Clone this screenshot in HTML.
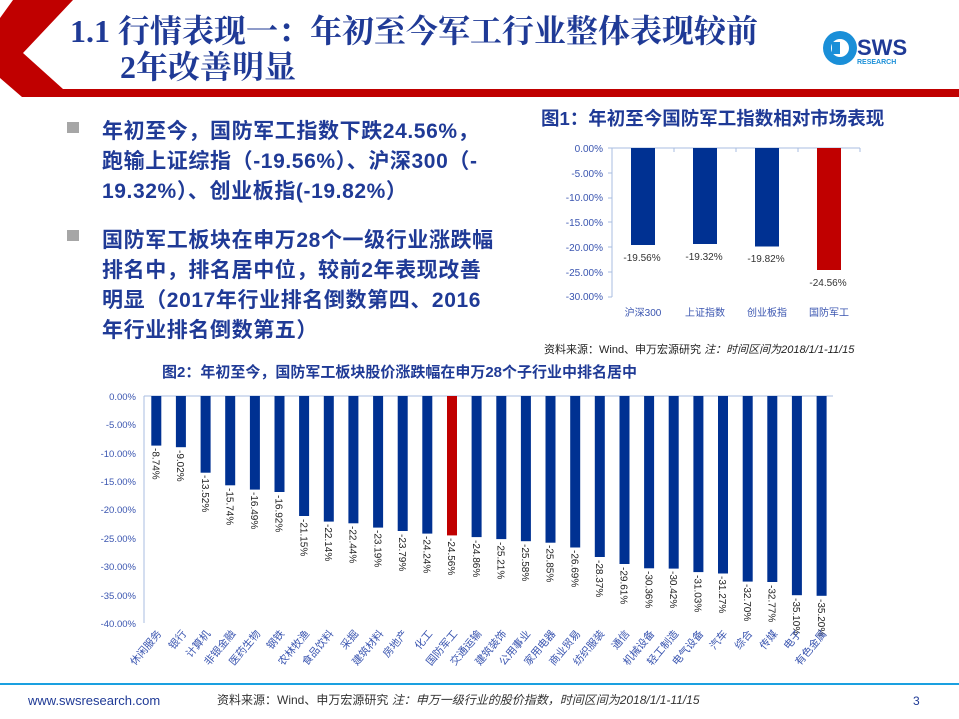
<!DOCTYPE html>
<html><head><meta charset="utf-8"><style>
html,body{margin:0;padding:0;background:#fff;}
svg{display:block;font-family:"Liberation Sans","Noto Sans CJK SC",sans-serif;}
</style></head><body>
<svg width="959" height="719" viewBox="0 0 959 719" xmlns="http://www.w3.org/2000/svg">
<!-- header frame -->
<polygon points="13,0 73,0 23,53 63,89 959,89 959,97 22,97 0,78 0,18" fill="#c00000"/>
<text x="70" y="42" font-size="32" fill="#1f3a96" font-family="Liberation Serif,'Noto Serif CJK SC',serif" font-weight="bold">1.1 行情表现一：年初至今军工行业整体表现较前</text>
<text x="120" y="78" font-size="32" fill="#1f3a96" font-family="Liberation Serif,'Noto Serif CJK SC',serif" font-weight="bold">2年改善明显</text>
<!-- logo -->
<circle cx="840" cy="48" r="17" fill="#1a8fd8"/>
<circle cx="840" cy="48" r="9" fill="#fff"/>
<rect x="832" y="42" width="8" height="12" fill="#1a8fd8"/>
<text x="857" y="55" font-size="22" font-weight="bold" fill="#1f3a96">SWS</text>
<text x="857" y="64" font-size="7" font-weight="bold" fill="#1a8fd8">RESEARCH</text>
<!-- bullets -->
<g fill="#1f3a96" font-size="21" font-weight="bold" letter-spacing="0.6">
<rect x="67" y="122" width="12" height="11" fill="#a6a6a6"/>
<text x="102" y="138">年初至今，国防军工指数下跌24.56%，</text>
<text x="102" y="168">跑输上证综指（-19.56%）、沪深300（-</text>
<text x="102" y="198">19.32%）、创业板指(-19.82%）</text>
<rect x="67" y="230" width="12" height="11" fill="#a6a6a6"/>
<text x="102" y="247">国防军工板块在申万28个一级行业涨跌幅</text>
<text x="102" y="277">排名中，排名居中位，较前2年表现改善</text>
<text x="102" y="307">明显（2017年行业排名倒数第四、2016</text>
<text x="102" y="337">年行业排名倒数第五）</text>
</g>
<!-- chart 1 -->
<text x="541" y="125" font-size="18.5" font-weight="bold" fill="#1f3a96">图1：年初至今国防军工指数相对市场表现</text>
<g font-size="10" fill="#3a55b0" text-anchor="end">
<text x="603" y="152">0.00%</text><text x="603" y="177">-5.00%</text><text x="603" y="201">-10.00%</text><text x="603" y="226">-15.00%</text><text x="603" y="251">-20.00%</text><text x="603" y="276">-25.00%</text><text x="603" y="300">-30.00%</text>
</g>
<line x1="612" y1="148" x2="612" y2="297" stroke="#a9bde0"/>
<line x1="612" y1="148" x2="860" y2="148" stroke="#a9bde0"/>
<g stroke="#a9bde0"><line x1="608" y1="148" x2="612" y2="148"/><line x1="608" y1="173" x2="612" y2="173"/><line x1="608" y1="198" x2="612" y2="198"/><line x1="608" y1="222" x2="612" y2="222"/><line x1="608" y1="247" x2="612" y2="247"/><line x1="608" y1="272" x2="612" y2="272"/><line x1="608" y1="297" x2="612" y2="297"/><line x1="674" y1="148" x2="674" y2="152"/><line x1="736" y1="148" x2="736" y2="152"/><line x1="798" y1="148" x2="798" y2="152"/><line x1="860" y1="148" x2="860" y2="152"/></g>
<rect x="631" y="148" width="24" height="97" fill="#003192"/>
<rect x="693" y="148" width="24" height="96" fill="#003192"/>
<rect x="755" y="148" width="24" height="98.5" fill="#003192"/>
<rect x="817" y="148" width="24" height="122" fill="#c00000"/>
<g font-size="10" fill="#333" text-anchor="middle">
<text x="642" y="261">-19.56%</text><text x="704" y="260">-19.32%</text><text x="766" y="262">-19.82%</text><text x="828" y="286">-24.56%</text>
</g>
<g font-size="10" fill="#3a55b0" text-anchor="middle">
<text x="643" y="316">沪深300</text><text x="705" y="316">上证指数</text><text x="767" y="316">创业板指</text><text x="829" y="316">国防军工</text>
</g>
<text x="544" y="353" font-size="11" fill="#222">资料来源：Wind、申万宏源研究 <tspan font-style="italic">注：时间区间为2018/1/1-11/15</tspan></text>
<!-- chart 2 -->
<text x="162" y="377" font-size="15" font-weight="bold" fill="#1f3a96">图2：年初至今，国防军工板块股价涨跌幅在申万28个子行业中排名居中</text>
<g font-size="9.5" fill="#3a55b0" text-anchor="end">
<text x="136" y="400">0.00%</text><text x="136" y="428">-5.00%</text><text x="136" y="457">-10.00%</text><text x="136" y="485">-15.00%</text><text x="136" y="513">-20.00%</text><text x="136" y="542">-25.00%</text><text x="136" y="570">-30.00%</text><text x="136" y="599">-35.00%</text><text x="136" y="627">-40.00%</text>
</g>
<line x1="144" y1="396" x2="144" y2="623" stroke="#a9bde0"/>
<line x1="144" y1="396" x2="833" y2="396" stroke="#a9bde0"/>
<g fill="#003192">
<rect x="151.3" y="396" width="10" height="49.6"/>
<rect x="175.9" y="396" width="10" height="51.2"/>
<rect x="200.6" y="396" width="10" height="76.7"/>
<rect x="225.2" y="396" width="10" height="89.3"/>
<rect x="249.9" y="396" width="10" height="93.6"/>
<rect x="274.5" y="396" width="10" height="96"/>
<rect x="299.1" y="396" width="10" height="120"/>
<rect x="323.8" y="396" width="10" height="125.6"/>
<rect x="348.4" y="396" width="10" height="127.3"/>
<rect x="373.1" y="396" width="10" height="131.6"/>
<rect x="397.7" y="396" width="10" height="135"/>
<rect x="422.3" y="396" width="10" height="137.6"/>
<rect x="447" y="396" width="10" height="139.4" fill="#c00000"/>
<rect x="471.6" y="396" width="10" height="141.1"/>
<rect x="496.3" y="396" width="10" height="143.1"/>
<rect x="520.9" y="396" width="10" height="145.2"/>
<rect x="545.5" y="396" width="10" height="146.7"/>
<rect x="570.2" y="396" width="10" height="151.5"/>
<rect x="594.8" y="396" width="10" height="161"/>
<rect x="619.5" y="396" width="10" height="168"/>
<rect x="644.1" y="396" width="10" height="172.3"/>
<rect x="668.7" y="396" width="10" height="172.6"/>
<rect x="693.4" y="396" width="10" height="176.1"/>
<rect x="718" y="396" width="10" height="177.5"/>
<rect x="742.7" y="396" width="10" height="185.6"/>
<rect x="767.3" y="396" width="10" height="186"/>
<rect x="791.9" y="396" width="10" height="199.2"/>
<rect x="816.6" y="396" width="10" height="199.8"/>
</g>
<g font-size="10" fill="#222">
<text transform="translate(152.5,448) rotate(90)">-8.74%</text>
<text transform="translate(177.1,450) rotate(90)">-9.02%</text>
<text transform="translate(201.8,475) rotate(90)">-13.52%</text>
<text transform="translate(226.4,488) rotate(90)">-15.74%</text>
<text transform="translate(251.1,492) rotate(90)">-16.49%</text>
<text transform="translate(275.7,495) rotate(90)">-16.92%</text>
<text transform="translate(300.3,519) rotate(90)">-21.15%</text>
<text transform="translate(325,524) rotate(90)">-22.14%</text>
<text transform="translate(349.6,526) rotate(90)">-22.44%</text>
<text transform="translate(374.3,530) rotate(90)">-23.19%</text>
<text transform="translate(398.9,534) rotate(90)">-23.79%</text>
<text transform="translate(423.5,536) rotate(90)">-24.24%</text>
<text transform="translate(448.2,538) rotate(90)">-24.56%</text>
<text transform="translate(472.8,540) rotate(90)">-24.86%</text>
<text transform="translate(497.5,542) rotate(90)">-25.21%</text>
<text transform="translate(522.1,544) rotate(90)">-25.58%</text>
<text transform="translate(546.7,545) rotate(90)">-25.85%</text>
<text transform="translate(571.4,550) rotate(90)">-26.69%</text>
<text transform="translate(596,560) rotate(90)">-28.37%</text>
<text transform="translate(620.7,567) rotate(90)">-29.61%</text>
<text transform="translate(645.3,571) rotate(90)">-30.36%</text>
<text transform="translate(669.9,571) rotate(90)">-30.42%</text>
<text transform="translate(694.6,575) rotate(90)">-31.03%</text>
<text transform="translate(719.2,576) rotate(90)">-31.27%</text>
<text transform="translate(743.9,584) rotate(90)">-32.70%</text>
<text transform="translate(768.5,585) rotate(90)">-32.77%</text>
<text transform="translate(793.1,598) rotate(90)">-35.10%</text>
<text transform="translate(817.8,599) rotate(90)">-35.20%</text>
</g>
<g font-size="10.5" fill="#3a55b0" text-anchor="end">
<text transform="translate(162,634) rotate(-50)">休闲服务</text>
<text transform="translate(187,634) rotate(-50)">银行</text>
<text transform="translate(211,634) rotate(-50)">计算机</text>
<text transform="translate(236,634) rotate(-50)">非银金融</text>
<text transform="translate(261,634) rotate(-50)">医药生物</text>
<text transform="translate(285,634) rotate(-50)">钢铁</text>
<text transform="translate(310,634) rotate(-50)">农林牧渔</text>
<text transform="translate(334,634) rotate(-50)">食品饮料</text>
<text transform="translate(359,634) rotate(-50)">采掘</text>
<text transform="translate(384,634) rotate(-50)">建筑材料</text>
<text transform="translate(408,634) rotate(-50)">房地产</text>
<text transform="translate(433,634) rotate(-50)">化工</text>
<text transform="translate(458,634) rotate(-50)">国防军工</text>
<text transform="translate(482,634) rotate(-50)">交通运输</text>
<text transform="translate(507,634) rotate(-50)">建筑装饰</text>
<text transform="translate(531,634) rotate(-50)">公用事业</text>
<text transform="translate(556,634) rotate(-50)">家用电器</text>
<text transform="translate(581,634) rotate(-50)">商业贸易</text>
<text transform="translate(605,634) rotate(-50)">纺织服装</text>
<text transform="translate(630,634) rotate(-50)">通信</text>
<text transform="translate(655,634) rotate(-50)">机械设备</text>
<text transform="translate(679,634) rotate(-50)">轻工制造</text>
<text transform="translate(704,634) rotate(-50)">电气设备</text>
<text transform="translate(728,634) rotate(-50)">汽车</text>
<text transform="translate(753,634) rotate(-50)">综合</text>
<text transform="translate(778,634) rotate(-50)">传媒</text>
<text transform="translate(802,634) rotate(-50)">电子</text>
<text transform="translate(827,634) rotate(-50)">有色金属</text>
</g>
<!-- footer -->
<rect x="0" y="683" width="959" height="2" fill="#1aa0e0"/>
<text x="28" y="705" font-size="13" fill="#1f3a96">www.swsresearch.com</text>
<text x="217" y="704" font-size="12" fill="#333">资料来源：Wind、申万宏源研究 <tspan font-style="italic">注：申万一级行业的股价指数，时间区间为2018/1/1-11/15</tspan></text>
<text x="913" y="705" font-size="12" fill="#1f3a96">3</text>
</svg>
</body></html>
